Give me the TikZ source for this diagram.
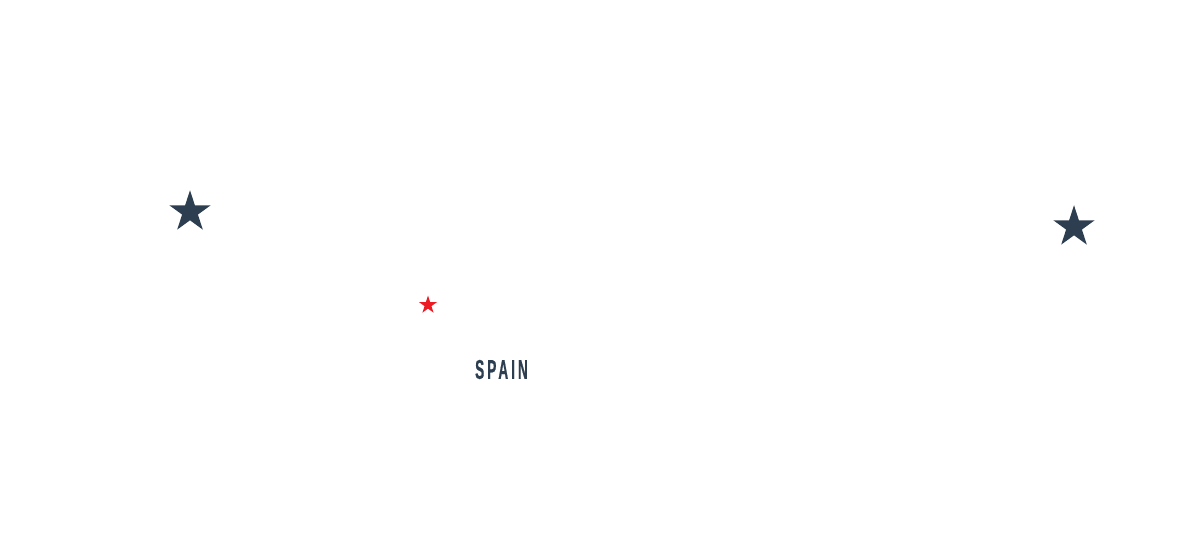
\documentclass[tikz,border=0pt]{standalone}
\usepackage{fontspec}
\usetikzlibrary{shapes.geometric}
\newfontfamily\countryfont[FakeStretch=0.5,LetterSpace=11,FakeBold=0.5]{Liberation Sans Bold}
\definecolor{navy}{HTML}{2C3E50}
\definecolor{starred}{HTML}{ED1C24}
\tikzset{
  mapstar/.style={star,star points=5,star point ratio=2.618,fill=#1,draw=none,inner sep=0pt},
  country/.style={text=navy,inner sep=0pt,font=\countryfont\fontsize{19.4}{20}\selectfont}
}
\begin{document}
\begin{tikzpicture}[x=0.025cm,y=0.025cm]
\useasboundingbox (0,0) rectangle (1200,547);
\node (starwest) at (190,335) [mapstar=navy,minimum size=43.5*0.025cm] {};
\node (stareast) at (1074,320) [mapstar=navy,minimum size=43.5*0.025cm] {};
\node (starcapital) at (428,242) [mapstar=starred,minimum size=19*0.025cm] {};
\node (spain) at (501.5,177.5) [country] {SPAIN};
\end{tikzpicture}
\end{document}
